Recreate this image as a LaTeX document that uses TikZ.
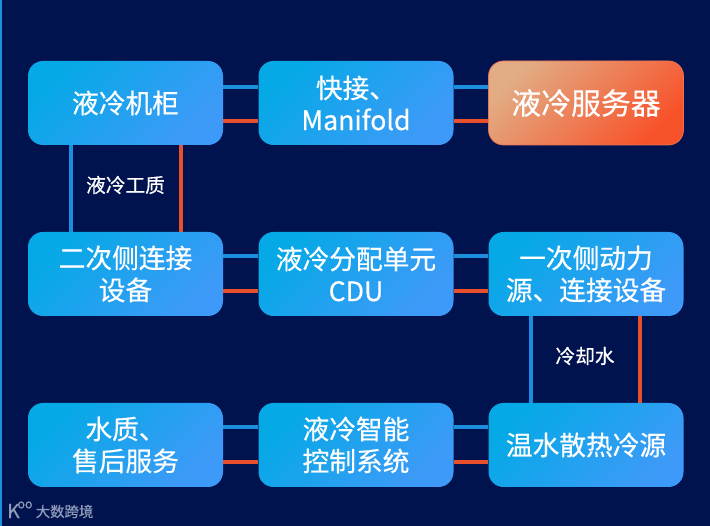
\documentclass[tikz,border=0pt]{standalone}
\usepackage{fontspec}
\setmainfont{Noto Sans CJK SC}[RawFeature={embolden=0.5}]
\definecolor{panel}{HTML}{01134F}
\definecolor{unit top}{HTML}{05A9E6}
\definecolor{unit bottom}{HTML}{3E9AF8}
\definecolor{server top}{HTML}{E2AC84}
\definecolor{server bottom}{HTML}{F8522A}
\definecolor{supply line}{HTML}{1B8FDD}
\definecolor{return line}{HTML}{E8502B}
\definecolor{brand grey}{HTML}{8F9BB8}
\tikzstyle{unit}=[rounded corners=0.3cm, minimum width=3.9cm, minimum height=1.68cm, inner sep=0, align=center, text=white, font=\fontsize{15.2}{18.2}\selectfont, top color=unit top, bottom color=unit bottom, shading angle=45]
\tikzstyle{server unit}=[unit, top color=server top, bottom color=server bottom, shading angle=45, draw=return line!80, thin, font=\fontsize{17}{20}\selectfont]
\tikzstyle{supply}=[draw=supply line, line width=2pt]
\tikzstyle{return}=[draw=return line, line width=2pt]
\tikzstyle{medium}=[text=white, font=\fontsize{11.2}{13}\selectfont]
\tikzstyle{brand}=[text=brand grey, font=\fontsize{8.2}{10}\selectfont]

\begin{document}
\begin{tikzpicture}
      \useasboundingbox (0, 0) rectangle (14.2, 10.52);
      \fill[panel] (0, 0) rectangle (14.2, 10.52);
      \fill[supply line] (0, 0) rectangle (0.04, 10.52);

      \node[unit] (cabinet) at (2.51, 8.46) {液冷机柜};
      \node[unit] (manifold) at (7.12, 8.46) {快接、\\Manifold};
      \node[server unit] (server) at (11.72, 8.46) {液冷服务器};

      \node[unit] (secondary) at (2.51, 5.04) {二次侧连接\\设备};
      \node[unit] (cdu) at (7.12, 5.04) {液冷分配单元\\CDU};
      \node[unit] (primary) at (11.72, 5.04) {一次侧动力\\源、连接设备};

      \node[unit] (service) at (2.51, 1.62) {水质、\\售后服务};
      \node[unit] (control) at (7.12, 1.62) {液冷智能\\控制系统};
      \node[unit] (source) at (11.72, 1.62) {温水散热冷源};

      \draw[supply] ([yshift=0.32cm]cabinet.east) to ([yshift=0.32cm]manifold.west);
      \draw[return] ([yshift=-0.36cm]cabinet.east) to ([yshift=-0.36cm]manifold.west);
      \draw[supply] ([yshift=0.32cm]manifold.east) to ([yshift=0.32cm]server.west);
      \draw[return] ([yshift=-0.36cm]manifold.east) to ([yshift=-0.36cm]server.west);

      \draw[supply] ([yshift=0.36cm]secondary.east) to ([yshift=0.36cm]cdu.west);
      \draw[return] ([yshift=-0.34cm]secondary.east) to ([yshift=-0.34cm]cdu.west);
      \draw[supply] ([yshift=0.36cm]cdu.east) to ([yshift=0.36cm]primary.west);
      \draw[return] ([yshift=-0.34cm]cdu.east) to ([yshift=-0.34cm]primary.west);

      \draw[supply] ([yshift=0.36cm]service.east) to ([yshift=0.36cm]control.west);
      \draw[return] ([yshift=-0.34cm]service.east) to ([yshift=-0.34cm]control.west);
      \draw[supply] ([yshift=0.36cm]control.east) to ([yshift=0.36cm]source.west);
      \draw[return] ([yshift=-0.34cm]control.east) to ([yshift=-0.34cm]source.west);

      \draw[supply] ([xshift=-1.09cm]cabinet.south) to ([xshift=-1.09cm]secondary.north);
      \draw[return] ([xshift=1.11cm]cabinet.south) to ([xshift=1.11cm]secondary.north);
      \draw[supply] ([xshift=-1.1cm]primary.south) to ([xshift=-1.1cm]source.north);
      \draw[return] ([xshift=1.08cm]primary.south) to ([xshift=1.08cm]source.north);

      \node[medium] (fluid) at (2.51, 6.82) {液冷工质};
      \node[medium] (water) at (11.7, 3.4) {冷却水};

      \node[brand] (brand_name) at (1.29, 0.29) {大数跨境};
      \node[brand, font=\fontsize{11}{12}\selectfont, inner sep=0] (logo) at (0.27, 0.3) {K};
      \node[brand, font=\fontsize{7}{8}\selectfont, inner sep=0] (logo_top) at (0.5, 0.42) {oo};
\end{tikzpicture}
\end{document}
